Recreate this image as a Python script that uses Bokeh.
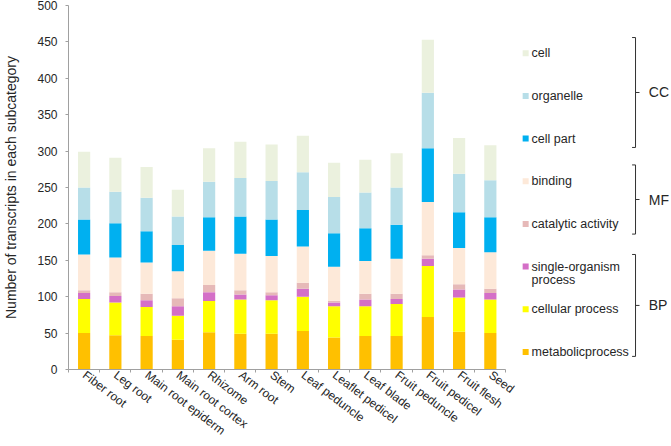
from bokeh.plotting import figure
from bokeh.models import Range1d, FixedTicker, ColumnDataSource
from bokeh.core.properties import value
from bokeh.embed import file_html
from bokeh.resources import INLINE

# ---------------- data ----------------
categories = ["Fiber root", "Leg root", "Main root epiderm", "Main root cortex",
              "Rhizome", "Arm root", "Stem", "Leaf peduncle", "Leaflet pedicel",
              "Leaf blade", "Fruit peduncle", "Fruit pedicel", "Fruit flesh", "Seed"]

metabolic = [50, 47, 46, 41, 51, 49, 49, 53, 44, 46, 46, 72, 52, 50]
cellular = [47, 45, 40, 33, 43, 47, 46, 47, 43, 41, 44, 70, 47, 46]
single_organism = [8, 9, 9, 13, 12, 7, 7, 11, 5, 9, 7, 10, 11, 9]
catalytic = [4, 5, 9, 11, 10, 6, 4, 8, 2, 8, 7, 5, 7, 6]
binding = [49, 48, 43, 37, 47, 50, 50, 50, 47, 45, 48, 73, 50, 50]
cell_part = [48, 47, 43, 36, 46, 51, 50, 50, 46, 45, 47, 74, 49, 48]
organelle = [44, 43, 46, 39, 49, 53, 53, 52, 50, 49, 51, 76, 53, 51]
cell = [49, 47, 42, 37, 46, 50, 50, 50, 47, 45, 47, 73, 49, 48]

series_keys = ["metabolic", "cellular", "single_organism", "catalytic",
               "binding", "cell_part", "organelle", "cell"]
series_labels = ["metabolicprocess", "cellular process", "single-organism\nprocess",
                 "catalytic activity", "binding", "cell part", "organelle", "cell"]
series_colors = ["#FFC000", "#FFFF00", "#D46FC7", "#E6B9B8",
                 "#FDE9D9", "#00B0F0", "#B7DEE8", "#EBF1DE"]

groups = ["CC", "MF", "BP"]
group_spans = [(456, 305), (281, 186), (158, 18)]   # bracket extents (y units)

y_ticks = [0, 50, 100, 150, 200, 250, 300, 350, 400, 450, 500]

# ---------------- layout constants ----------------
FONT = "Liberation Sans"
W, H = 671, 446
LEFT, TOP = 59, 5
CAT_PX = 31.714
x_end = -0.5 + (W - LEFT) / CAT_PX
AXIS_GRAY = "#A0A0A0"
TEXT = "#262626"

src = ColumnDataSource(dict(
    x=list(range(len(categories))),
    metabolic=metabolic, cellular=cellular, single_organism=single_organism,
    catalytic=catalytic, binding=binding, cell_part=cell_part,
    organelle=organelle, cell=cell))

p = figure(width=W, height=H, x_range=Range1d(-0.5, x_end), y_range=Range1d(0, 500),
           output_backend="svg", toolbar_location=None,
           min_border_left=LEFT, min_border_top=TOP, min_border_right=0,
           min_border_bottom=0)
p.outline_line_color = None
p.xgrid.grid_line_color = None
p.ygrid.grid_line_color = None

p.vbar_stack(series_keys, x="x", width=0.39, source=src,
             fill_color=series_colors, line_color=None)

# x axis
xa = p.xaxis[0]
xa.ticker = FixedTicker(ticks=list(range(len(categories))),
                        minor_ticks=[i - 0.5 for i in range(len(categories) + 1)])
xa.major_label_overrides = {i: c for i, c in enumerate(categories)}
xa.bounds = (-0.5, len(categories) - 0.5)
xa.major_tick_out = 0
xa.major_tick_in = 0
xa.minor_tick_out = 3
xa.minor_tick_in = 0
xa.minor_tick_line_color = AXIS_GRAY
xa.axis_line_color = AXIS_GRAY
xa.major_label_orientation = -0.65
xa.major_label_standoff = 1
xa.major_label_text_font = FONT
xa.major_label_text_font_size = "12px"
xa.major_label_text_color = TEXT

# y axis
ya = p.yaxis[0]
ya.ticker = FixedTicker(ticks=y_ticks)
ya.minor_tick_line_color = None
ya.major_tick_out = 3
ya.major_tick_in = 0
ya.major_tick_line_color = AXIS_GRAY
ya.axis_line_color = AXIS_GRAY
ya.major_label_standoff = 8
ya.major_label_text_font = FONT
ya.major_label_text_font_size = "12px"
ya.major_label_text_color = TEXT
ya.axis_label = "Number of transcripts in each subcategory"
ya.axis_label_text_font = FONT
ya.axis_label_text_font_size = "14px"
ya.axis_label_text_font_style = "normal"
ya.axis_label_text_color = TEXT
ya.axis_label_standoff = 15

# ---------------- legend (top = last series) ----------------
LEG_TOP = 434.4
LEG_STEP = 58.6
LINE_STEP = 19.1
sq_x = 14.13
txt_x = 14.32
order = list(range(len(series_keys)))[::-1]
sq_xs, sq_ys, sq_cols = [], [], []
tx, ty, tt = [], [], []
for rank, idx in enumerate(order):
    y = LEG_TOP - rank * LEG_STEP
    sq_xs.append(sq_x)
    sq_ys.append(y)
    sq_cols.append(series_colors[idx])
    for j, line in enumerate(series_labels[idx].split("\n")):
        tx.append(txt_x)
        ty.append(y - j * LINE_STEP)
        tt.append(line)
p.scatter(x=sq_xs, y=sq_ys, marker="square", size=6, fill_color=sq_cols, line_color=None)
p.text(x=tx, y=ty, text=tt, text_font=value(FONT), text_font_size="12.5px",
       text_baseline="middle", text_align="left", text_color=TEXT)

# ---------------- brackets ----------------
xv = 17.646
xh = 17.536
xt = 17.773
xlab = 18.07
bx, by = [], []
gx, gy, gt = [], [], []
for g, (top, bot) in zip(groups, group_spans):
    mid = (top + bot) / 2
    bx.append([xh, xv, xv, xh])
    by.append([top, top, bot, bot])
    bx.append([xv, xt])
    by.append([mid, mid])
    gx.append(xlab)
    gy.append(mid)
    gt.append(g)
p.multi_line(xs=bx, ys=by, line_color="#333333", line_width=1)
p.text(x=gx, y=gy, text=gt, text_font=value(FONT), text_font_size="14px",
       text_baseline="middle", text_align="left", text_color=TEXT)

open("out.html", "w").write(file_html(p, INLINE))
